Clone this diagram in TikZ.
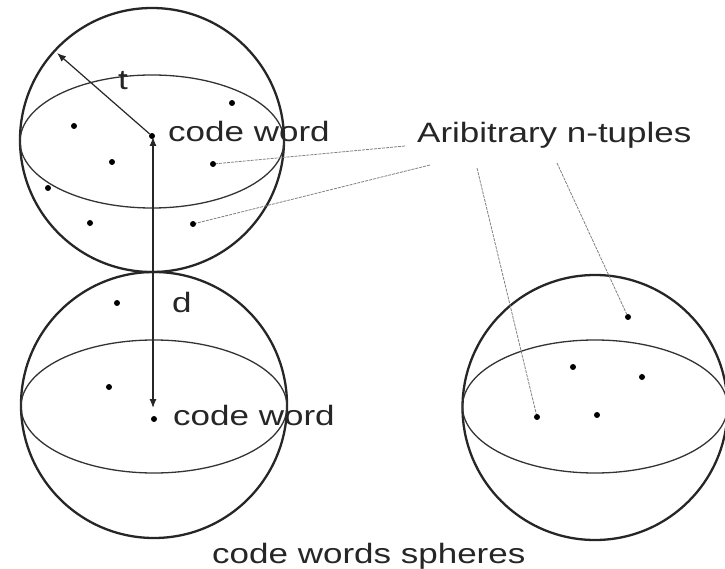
\documentclass[tikz,border=0pt]{standalone}
\usepackage{fontspec}
\setmainfont{Liberation Sans}
\usetikzlibrary{arrows.meta}
% horizontally widened lettering
\newcommand{\widetext}[1]{\scalebox{1.25}[1]{#1}}

\begin{document}
\begin{tikzpicture}[x=1pt,y=-1pt,
  sphere/.style={line width=2.3pt, draw=black!85},
  equator/.style={line width=1.3pt, draw=black!80},
  pt/.style={circle, fill=black, inner sep=0pt, minimum size=6pt},
  lbl/.style={inner sep=0pt, anchor=base west, font=\fontsize{28}{30}\selectfont, text=black!85},
  leader/.style={draw=black!50, line width=0.8pt, dash pattern=on 3pt off 1pt},
  dimline/.style={line width=1.2pt, draw=black!85},
  tip/.style={-{Latex[length=9pt,width=7pt]}},
]
\useasboundingbox (0,0) rectangle (725,569);

% ---- spheres: outline and equator ----
\draw[sphere]  (152,140)   ellipse [x radius=132pt, y radius=132pt];
\draw[equator] (152,141.5) ellipse [x radius=132pt, y radius=66.5pt];

\draw[sphere]  (154,405)   ellipse [x radius=133pt, y radius=133pt];
\draw[equator] (154,406.5) ellipse [x radius=133pt, y radius=66.5pt];

\draw[sphere]  (595,407.5) ellipse [x radius=132.5pt, y radius=132.5pt];
\draw[equator] (595,406.5) ellipse [x radius=132.5pt, y radius=66.5pt];

% ---- points in the upper sphere ----
\node[pt] (cw1) at (152,136) {};
\node[pt] (a1) at (232,103) {};
\node[pt] (a2) at (74,126) {};
\node[pt] (a3) at (112,162) {};
\node[pt] (a4) at (213,164) {};
\node[pt] (a5) at (48,188) {};
\node[pt] (a6) at (90,223) {};
\node[pt] (a7) at (193,224) {};

% ---- points in the lower sphere ----
\node[pt] (cw2) at (154,419) {};
\node[pt] (b1) at (117,303) {};
\node[pt] (b2) at (109,387) {};

% ---- points in the right sphere ----
\node[pt] (c1) at (573,367) {};
\node[pt] (c2) at (642,377) {};
\node[pt] (c3) at (537,417) {};
\node[pt] (c4) at (597,415) {};
\node[pt] (c5) at (628,317) {};

% ---- radius t and distance d ----
\coordinate (rim) at (57,53);
\coordinate (dtop) at (153,137);
\coordinate (dbot) at (153,408);
\draw[dimline, tip] (cw1) -- (rim);
\draw[dimline, {Latex[length=9pt,width=7pt]}-{Latex[length=9pt,width=7pt]}] (dtop) -- (dbot);

% ---- labels ----
\node[lbl] (tlab) at (118,90) {\widetext{t}};
\node[lbl] (dlab) at (172,312) {\widetext{d}};
\node[lbl] (cwlab1) at (168,142) {\widetext{code word}};
\node[lbl] (cwlab2) at (173,425) {\widetext{code word}};
\node[lbl] (ntup) at (417,143) {\widetext{Aribitrary n-tuples}};
\node[lbl] (title) at (212,563) {\widetext{code words spheres}};

% ---- leaders from the n-tuple label ----
\coordinate (n1) at (405,146);
\coordinate (n2) at (430,165);
\coordinate (n3) at (477,168);
\coordinate (n4) at (557,163);
\draw[leader] (n1) -- (a4);
\draw[leader] (n2) -- (a7);
\draw[leader] (n3) -- (c3);
\draw[leader] (n4) -- (c5);
\end{tikzpicture}
\end{document}
